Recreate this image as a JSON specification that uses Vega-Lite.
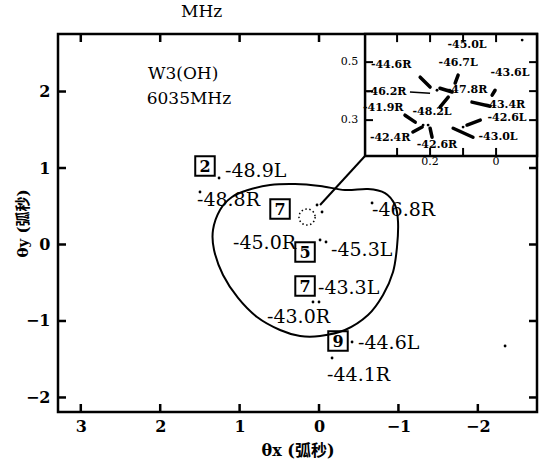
{
  "$schema": "https://vega.github.io/schema/vega-lite/v6.json",
  "autosize": {"type": "none"},
  "width": 479,
  "height": 378,
  "padding": {"left": 58, "top": 34, "right": 4, "bottom": 54},
  "background": "white",
  "config": {
    "view": {"stroke": "black", "strokeWidth": 2.5},
    "font": "DejaVu Serif, Noto Sans CJK SC",
    "text": {"font": "DejaVu Serif, Noto Sans CJK SC", "color": "black"}
  },
  "title": {"text": "MHz", "anchor": "start", "dx": 166, "offset": 12, "fontSize": 17, "fontWeight": "normal", "font": "DejaVu Serif", "color": "black"},
  "datasets": {
    "labels": [
      {"x": 1.184, "y": 0.961, "t": "-48.9L"},
      {"x": 1.537, "y": 0.582, "t": "-48.8R"},
      {"x": -0.668, "y": 0.451, "t": "-46.8R"},
      {"x": 1.083, "y": 0.020, "t": "-45.0R"},
      {"x": -0.151, "y": -0.072, "t": "-45.3L"},
      {"x": 0.013, "y": -0.569, "t": "-43.3L"},
      {"x": 0.655, "y": -0.948, "t": "-43.0R"},
      {"x": -0.491, "y": -1.288, "t": "-44.6L"},
      {"x": -0.101, "y": -1.706, "t": "-44.1R"}
    ],
    "boxes": [
      {"x": 1.436, "y": 1.026, "d": "2"},
      {"x": 0.491, "y": 0.464, "d": "7"},
      {"x": 0.176, "y": -0.098, "d": "5"},
      {"x": 0.176, "y": -0.542, "d": "7"},
      {"x": -0.239, "y": -1.261, "d": "9"}
    ],
    "dots": [
      {"x": 1.259, "y": 0.869}, {"x": 1.499, "y": 0.686}, {"x": -0.668, "y": 0.542},
      {"x": -0.013, "y": 0.059}, {"x": -0.088, "y": 0.033},
      {"x": 0.076, "y": -0.752}, {"x": 0.0, "y": -0.752},
      {"x": -0.416, "y": -1.275}, {"x": -0.164, "y": -1.484}, {"x": -2.343, "y": -1.327},
      {"x": 0.025, "y": 0.516}, {"x": -0.038, "y": 0.425}
    ],
    "loop": [
      {"i": 0, "x": 0.894, "y": 0.712}, {"i": 1, "x": 0.617, "y": 0.778},
      {"i": 2, "x": 0.302, "y": 0.791}, {"i": 3, "x": -0.013, "y": 0.765},
      {"i": 4, "x": -0.327, "y": 0.712}, {"i": 5, "x": -0.617, "y": 0.725},
      {"i": 6, "x": -0.831, "y": 0.673}, {"i": 7, "x": -0.957, "y": 0.516},
      {"i": 8, "x": -0.995, "y": 0.294}, {"i": 9, "x": -0.982, "y": -0.033},
      {"i": 10, "x": -0.932, "y": -0.359}, {"i": 11, "x": -0.806, "y": -0.660},
      {"i": 12, "x": -0.617, "y": -0.922}, {"i": 13, "x": -0.327, "y": -1.118},
      {"i": 14, "x": -0.013, "y": -1.196}, {"i": 15, "x": 0.239, "y": -1.196},
      {"i": 16, "x": 0.491, "y": -1.118}, {"i": 17, "x": 0.781, "y": -0.948},
      {"i": 18, "x": 1.020, "y": -0.699}, {"i": 19, "x": 1.209, "y": -0.399},
      {"i": 20, "x": 1.322, "y": -0.072}, {"i": 21, "x": 1.335, "y": 0.190},
      {"i": 22, "x": 1.247, "y": 0.451}, {"i": 23, "x": 1.096, "y": 0.621}
    ],
    "link": [{"x": -0.013, "y": 0.516, "x2": -0.579, "y2": 1.157}],
    "circ": [{"x": 0.151, "y": 0.359}],
    "vticks": [
      {"x": 3, "y": 2.752}, {"x": 2, "y": 2.752}, {"x": 1, "y": 2.752}, {"x": 0, "y": 2.752},
      {"x": 3, "y": -2.19}, {"x": 2, "y": -2.19}, {"x": 1, "y": -2.19}, {"x": 0, "y": -2.19}, {"x": -1, "y": -2.19}, {"x": -2, "y": -2.19}
    ],
    "hticks": [
      {"x": 3.287, "y": 2}, {"x": 3.287, "y": 1}, {"x": 3.287, "y": 0}, {"x": 3.287, "y": -1}, {"x": 3.287, "y": -2},
      {"x": -2.745, "y": 1}, {"x": -2.745, "y": 0}, {"x": -2.745, "y": -1}, {"x": -2.745, "y": -2}
    ],
    "ititle": [{"x": 2.154, "y": 2.23, "t": "W3(OH)"}, {"x": 2.17, "y": 1.90, "t": "6035MHz"}],
    "inbox": [{"x": 0.397, "x2": -0.124, "y": 0.176, "y2": 0.597}],
    "inlabels": [
      {"x": 0.088, "y": 0.559, "t": "-45.0L"},
      {"x": 0.318, "y": 0.490, "t": "-44.6R"},
      {"x": 0.115, "y": 0.497, "t": "-46.7L"},
      {"x": -0.042, "y": 0.462, "t": "-43.6L"},
      {"x": 0.333, "y": 0.397, "t": "-46.2R"},
      {"x": 0.088, "y": 0.403, "t": "-47.8R"},
      {"x": -0.027, "y": 0.352, "t": "-43.4R"},
      {"x": 0.342, "y": 0.341, "t": "-41.9R"},
      {"x": 0.194, "y": 0.328, "t": "-48.2L"},
      {"x": -0.033, "y": 0.307, "t": "-42.6L"},
      {"x": 0.321, "y": 0.238, "t": "-42.4R"},
      {"x": 0.179, "y": 0.214, "t": "-42.6R"},
      {"x": -0.006, "y": 0.241, "t": "-43.0L"}
    ],
    "blobs": [
      {"x": 0.230, "y": 0.448, "x2": 0.200, "y2": 0.414},
      {"x": 0.115, "y": 0.455, "x2": 0.124, "y2": 0.428},
      {"x": 0.003, "y": 0.403, "x2": 0.012, "y2": 0.386},
      {"x": 0.170, "y": 0.410, "x2": 0.133, "y2": 0.397},
      {"x": 0.073, "y": 0.362, "x2": 0.018, "y2": 0.348},
      {"x": 0.145, "y": 0.379, "x2": 0.170, "y2": 0.345},
      {"x": 0.276, "y": 0.317, "x2": 0.245, "y2": 0.293},
      {"x": 0.088, "y": 0.283, "x2": 0.048, "y2": 0.300},
      {"x": 0.252, "y": 0.259, "x2": 0.224, "y2": 0.276},
      {"x": 0.200, "y": 0.272, "x2": 0.194, "y2": 0.241},
      {"x": 0.130, "y": 0.272, "x2": 0.070, "y2": 0.241}
    ],
    "leaders": [{"x": 0.261, "y": 0.397, "x2": 0.200, "y2": 0.393}],
    "indots": [
      {"x": 0.221, "y": 0.283}, {"x": 0.206, "y": 0.283}, {"x": 0.179, "y": 0.403},
      {"x": 0.1, "y": 0.276}, {"x": -0.079, "y": 0.576}
    ],
    "inticks": [
      {"x": 0.397, "x2": 0.373, "y": 0.5, "y2": 0.5},
      {"x": 0.397, "x2": 0.373, "y": 0.4, "y2": 0.4},
      {"x": 0.397, "x2": 0.373, "y": 0.3, "y2": 0.3},
      {"x": -0.124, "x2": -0.1, "y": 0.5, "y2": 0.5},
      {"x": -0.124, "x2": -0.1, "y": 0.4, "y2": 0.4},
      {"x": -0.124, "x2": -0.1, "y": 0.3, "y2": 0.3},
      {"x": 0.3, "x2": 0.3, "y": 0.176, "y2": 0.204},
      {"x": 0.2, "x2": 0.2, "y": 0.176, "y2": 0.204},
      {"x": 0.1, "x2": 0.1, "y": 0.176, "y2": 0.204},
      {"x": 0.0, "x2": 0.0, "y": 0.176, "y2": 0.204},
      {"x": 0.3, "x2": 0.3, "y": 0.597, "y2": 0.569},
      {"x": 0.2, "x2": 0.2, "y": 0.597, "y2": 0.569},
      {"x": 0.1, "x2": 0.1, "y": 0.597, "y2": 0.569},
      {"x": 0.0, "x2": 0.0, "y": 0.597, "y2": 0.569}
    ],
    "inylabels": [{"x": 0.418, "y": 0.5, "t": "0.5"}, {"x": 0.418, "y": 0.3, "t": "0.3"}],
    "inxlabels": [{"x": 0.2, "y": 0.155, "t": "0.2"}, {"x": 0.0, "y": 0.155, "t": "0"}]
  },
  "layer": [
    {
      "layer": [
        {
          "data": {"name": "loop"},
          "mark": {"type": "line", "interpolate": "cardinal-closed", "color": "black", "strokeWidth": 2},
          "encoding": {
            "x": {"field": "x", "type": "quantitative",
                  "scale": {"domain": [-2.745, 3.287], "reverse": true, "nice": false, "zero": false},
                  "axis": {"values": [3, 2, 1, 0, -1, -2], "format": "d", "grid": false, "domain": false, "ticks": false,
                           "labelFont": "DejaVu Serif", "labelFontSize": 16, "labelFontWeight": "bold", "labelColor": "black", "labelPadding": 6,
                           "title": "θx (弧秒)", "titleFont": "DejaVu Serif, Noto Sans CJK SC", "titleFontSize": 16, "titleFontWeight": "bold", "titleColor": "black", "titlePadding": 8}},
            "y": {"field": "y", "type": "quantitative",
                  "scale": {"domain": [-2.19, 2.752], "nice": false, "zero": false},
                  "axis": {"values": [2, 1, 0, -1, -2], "format": "d", "grid": false, "domain": false, "ticks": false,
                           "labelFont": "DejaVu Serif", "labelFontSize": 16, "labelFontWeight": "bold", "labelColor": "black", "labelPadding": 8,
                           "title": "θy (弧秒)", "titleFont": "DejaVu Serif, Noto Sans CJK SC", "titleFontSize": 15, "titleFontWeight": "bold", "titleColor": "black",
                           "titleX": -36, "titleBaseline": "middle"}},
            "order": {"field": "i", "type": "quantitative"}
          }
        },
        {
          "data": {"name": "link"},
          "mark": {"type": "rule", "color": "black", "strokeWidth": 2},
          "encoding": {
            "x": {"field": "x", "type": "quantitative"},
            "y": {"field": "y", "type": "quantitative"},
            "x2": {"field": "x2"},
            "y2": {"field": "y2"}
          }
        },
        {
          "data": {"name": "circ"},
          "mark": {"type": "point", "shape": "circle", "filled": false, "size": 260, "color": "black", "strokeWidth": 1.5, "strokeDash": [1.5, 2.5], "opacity": 1},
          "encoding": {
            "x": {"field": "x", "type": "quantitative"},
            "y": {"field": "y", "type": "quantitative"}
          }
        },
        {
          "data": {"name": "dots"},
          "mark": {"type": "circle", "size": 8, "color": "black", "opacity": 1},
          "encoding": {
            "x": {"field": "x", "type": "quantitative"},
            "y": {"field": "y", "type": "quantitative"}
          }
        },
        {
          "data": {"name": "boxes"},
          "mark": {"type": "point", "shape": "square", "filled": false, "size": 380, "color": "black", "strokeWidth": 2, "opacity": 1},
          "encoding": {
            "x": {"field": "x", "type": "quantitative"},
            "y": {"field": "y", "type": "quantitative"}
          }
        },
        {
          "data": {"name": "boxes"},
          "mark": {"type": "text", "fontSize": 16, "fontWeight": "bold", "align": "center", "baseline": "middle", "dy": 1},
          "encoding": {
            "x": {"field": "x", "type": "quantitative"},
            "y": {"field": "y", "type": "quantitative"},
            "text": {"field": "d"}
          }
        },
        {
          "data": {"name": "labels"},
          "mark": {"type": "text", "fontSize": 19, "align": "left", "baseline": "middle"},
          "encoding": {
            "x": {"field": "x", "type": "quantitative"},
            "y": {"field": "y", "type": "quantitative"},
            "text": {"field": "t"}
          }
        },
        {
          "data": {"name": "ititle"},
          "mark": {"type": "text", "fontSize": 17, "align": "left", "baseline": "middle"},
          "encoding": {
            "x": {"field": "x", "type": "quantitative"},
            "y": {"field": "y", "type": "quantitative"},
            "text": {"field": "t"}
          }
        },
        {
          "data": {"name": "vticks"},
          "mark": {"type": "tick", "orient": "vertical", "size": 16, "thickness": 2.5, "color": "black", "clip": true, "opacity": 1},
          "encoding": {
            "x": {"field": "x", "type": "quantitative"},
            "y": {"field": "y", "type": "quantitative"}
          }
        },
        {
          "data": {"name": "hticks"},
          "mark": {"type": "tick", "orient": "horizontal", "size": 16, "thickness": 2.5, "color": "black", "clip": true, "opacity": 1},
          "encoding": {
            "x": {"field": "x", "type": "quantitative"},
            "y": {"field": "y", "type": "quantitative"}
          }
        }
      ]
    },
    {
      "layer": [
        {
          "data": {"name": "inbox"},
          "mark": {"type": "rect", "fill": "white", "stroke": "black", "strokeWidth": 2.5},
          "encoding": {
            "x": {"field": "x", "type": "quantitative", "scale": {"domain": [-0.124, 1.3275], "reverse": true, "nice": false, "zero": false}, "axis": null},
            "x2": {"field": "x2"},
            "y": {"field": "y", "type": "quantitative", "scale": {"domain": [-0.7066, 0.597], "nice": false, "zero": false}, "axis": null},
            "y2": {"field": "y2"}
          }
        },
        {
          "data": {"name": "inticks"},
          "mark": {"type": "rule", "color": "black", "strokeWidth": 2},
          "encoding": {
            "x": {"field": "x", "type": "quantitative"},
            "x2": {"field": "x2"},
            "y": {"field": "y", "type": "quantitative"},
            "y2": {"field": "y2"}
          }
        },
        {
          "data": {"name": "blobs"},
          "mark": {"type": "rule", "color": "black", "strokeWidth": 3.5, "strokeCap": "round"},
          "encoding": {
            "x": {"field": "x", "type": "quantitative"},
            "x2": {"field": "x2"},
            "y": {"field": "y", "type": "quantitative"},
            "y2": {"field": "y2"}
          }
        },
        {
          "data": {"name": "leaders"},
          "mark": {"type": "rule", "color": "black", "strokeWidth": 1.5},
          "encoding": {
            "x": {"field": "x", "type": "quantitative"},
            "x2": {"field": "x2"},
            "y": {"field": "y", "type": "quantitative"},
            "y2": {"field": "y2"}
          }
        },
        {
          "data": {"name": "indots"},
          "mark": {"type": "circle", "size": 8, "color": "black", "opacity": 1},
          "encoding": {
            "x": {"field": "x", "type": "quantitative"},
            "y": {"field": "y", "type": "quantitative"}
          }
        },
        {
          "data": {"name": "inlabels"},
          "mark": {"type": "text", "fontSize": 11, "fontWeight": "bold", "align": "center", "baseline": "middle"},
          "encoding": {
            "x": {"field": "x", "type": "quantitative"},
            "y": {"field": "y", "type": "quantitative"},
            "text": {"field": "t"}
          }
        },
        {
          "data": {"name": "inylabels"},
          "mark": {"type": "text", "fontSize": 11, "align": "right", "baseline": "middle"},
          "encoding": {
            "x": {"field": "x", "type": "quantitative"},
            "y": {"field": "y", "type": "quantitative"},
            "text": {"field": "t"}
          }
        },
        {
          "data": {"name": "inxlabels"},
          "mark": {"type": "text", "fontSize": 11, "align": "center", "baseline": "middle"},
          "encoding": {
            "x": {"field": "x", "type": "quantitative"},
            "y": {"field": "y", "type": "quantitative"},
            "text": {"field": "t"}
          }
        }
      ]
    }
  ],
  "resolve": {"scale": {"x": "independent", "y": "independent"}, "axis": {"x": "independent", "y": "independent"}}
}
